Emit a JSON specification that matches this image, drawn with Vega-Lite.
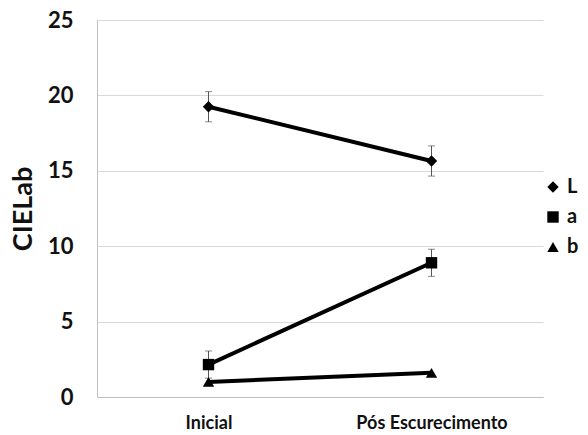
{
  "$schema": "https://vega.github.io/schema/vega-lite/v6.json",
  "width": 446,
  "height": 377,
  "autosize": "none",
  "padding": {"left": 97, "top": 20, "right": 45, "bottom": 38},
  "background": "white",
  "config": {
    "view": {"stroke": null},
    "font": "Lato"
  },
  "data": {
    "values": [
      {"moment": "Inicial", "param": "L", "value": 19.25, "err": 1.0},
      {"moment": "Pós Escurecimento", "param": "L", "value": 15.65, "err": 1.0},
      {"moment": "Inicial", "param": "a", "value": 2.15, "err": 0.9},
      {"moment": "Pós Escurecimento", "param": "a", "value": 8.9, "err": 0.9},
      {"moment": "Inicial", "param": "b", "value": 1.0, "err": 0},
      {"moment": "Pós Escurecimento", "param": "b", "value": 1.6, "err": 0}
    ]
  },
  "encoding": {
    "x": {
      "field": "moment",
      "type": "ordinal",
      "sort": ["Inicial", "Pós Escurecimento"],
      "scale": {"type": "point", "padding": 0.5},
      "axis": {
        "title": null,
        "labelAngle": 0,
        "labelFont": "Lato",
        "labelFontWeight": "bold",
        "labelFontSize": 18,
        "labelColor": "#111111",
        "labelPadding": 17,
        "ticks": false,
        "domainColor": "#bfbfbf",
        "grid": false
      }
    }
  },
  "layer": [
    {
      "transform": [
        {"filter": "datum.err > 0"},
        {"calculate": "datum.value - datum.err", "as": "lo"},
        {"calculate": "datum.value + datum.err", "as": "hi"}
      ],
      "mark": {"type": "rule", "color": "#555555", "strokeWidth": 1},
      "encoding": {
        "y": {"field": "lo", "type": "quantitative"},
        "y2": {"field": "hi"}
      }
    },
    {
      "transform": [
        {"filter": "datum.err > 0"},
        {"calculate": "datum.value - datum.err", "as": "lo"}
      ],
      "mark": {"type": "tick", "color": "#555555", "size": 7, "thickness": 1},
      "encoding": {
        "y": {"field": "lo", "type": "quantitative"}
      }
    },
    {
      "transform": [
        {"filter": "datum.err > 0"},
        {"calculate": "datum.value + datum.err", "as": "hi"}
      ],
      "mark": {"type": "tick", "color": "#555555", "size": 7, "thickness": 1},
      "encoding": {
        "y": {"field": "hi", "type": "quantitative"}
      }
    },
    {
      "mark": {"type": "line", "color": "black", "strokeWidth": 4},
      "encoding": {
        "y": {
          "field": "value",
          "type": "quantitative",
          "scale": {"domain": [0, 25], "nice": false},
          "axis": {
            "title": "CIELab",
            "titleFont": "Lato",
            "titleFontSize": 27,
            "titleFontWeight": "bold",
            "titleColor": "#111111",
            "titlePadding": 10,
            "values": [0, 5, 10, 15, 20, 25],
            "labelFont": "Lato",
            "labelFontWeight": "bold",
            "labelFontSize": 22,
            "labelColor": "#111111",
            "labelPadding": 24,
            "ticks": false,
            "domainColor": "#bfbfbf",
            "gridColor": "#d9d9d9",
            "grid": true
          }
        },
        "detail": {"field": "param"}
      }
    },
    {
      "mark": {"type": "point", "filled": true, "color": "black", "opacity": 1, "size": 130},
      "encoding": {
        "y": {"field": "value", "type": "quantitative"},
        "shape": {
          "field": "param",
          "type": "nominal",
          "scale": {"domain": ["L", "a", "b"], "range": ["diamond", "square", "triangle-up"]},
          "legend": {
            "title": null,
            "orient": "none",
            "legendX": 446,
            "legendY": 157,
            "labelFont": "Lato",
            "labelFontSize": 20,
            "labelFontWeight": "bold",
            "labelColor": "#111111",
            "symbolFillColor": "black",
            "symbolStrokeColor": "black",
            "symbolSize": 130,
            "rowPadding": 10,
            "labelOffset": 4
          }
        }
      }
    }
  ]
}
